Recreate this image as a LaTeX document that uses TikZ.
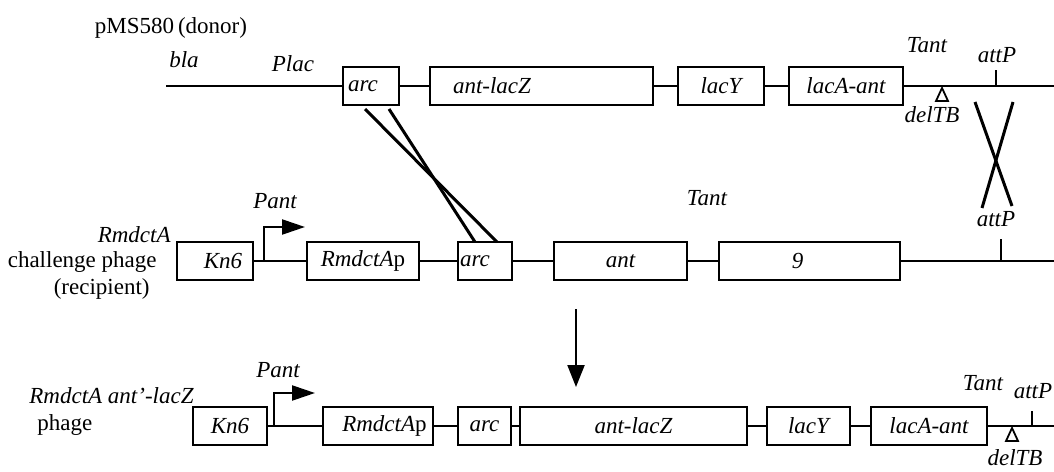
\documentclass[tikz,border=0pt]{standalone}
\usepackage{fontspec}
\setmainfont{Liberation Serif}
\usetikzlibrary{arrows.meta}
\begin{document}
\fontsize{11.5}{13}\selectfont
\begin{tikzpicture}[x=0.5pt,y=-0.5pt,
  gbox/.style={draw,line width=1.1pt,minimum height=19pt,minimum width=#1,inner sep=0pt,font=\itshape},
  dna/.style={line width=1pt},
  lab/.style={inner sep=0pt,font=\itshape},
  plain/.style={inner sep=0pt},
  xline/.style={line width=1.5pt},
  prom/.style={line width=1.1pt,-{Triangle[length=11.5pt,width=7.5pt]}},
  tick/.style={line width=1pt},
  deltri/.style={line width=0.9pt}]
\useasboundingbox (0,0) rectangle (1054,471);

% ---------- row 1 : donor ----------
\node[plain] (donor) at (171,28) {pMS580\,(donor)};
\node[lab] (bla) at (184,60) {bla};
\node[lab] (plac) at (293,64) {Plac};
\node[gbox=28pt] (a1) at (371,86) {arc\hspace*{8pt}};
\node[gbox=111.5pt] (z1) at (541.5,86) {ant-lacZ\hspace*{49.5pt}};
\node[gbox=43pt] (y1) at (721,86) {lacY};
\node[gbox=57pt] (aa1) at (846,86) {lacA-ant};
\coordinate (s1) at (166,86);
\coordinate (e1) at (1054,86);
\draw[dna] (s1) -- (a1);
\draw[dna] (a1) -- (z1);
\draw[dna] (z1) -- (y1);
\draw[dna] (y1) -- (aa1);
\draw[dna] (aa1) -- (e1);
\node[lab] (tant1) at (927,45) {Tant};
\node[lab] (attp1) at (997,55) {attP};
\coordinate (t1a) at (996,70);
\coordinate (t1b) at (996,86);
\draw[tick] (t1a) -- (t1b);
\coordinate (d1) at (942,88);
\draw[deltri] (d1) -- ++(-6,13) -- ++(12,0) -- cycle;
\node[lab] (del1) at (932,115) {delTB};

% ---------- row 2 : recipient ----------
\node[lab,anchor=east] (rm2) at (171,235) {RmdctA};
\node[plain,anchor=east] (ch2) at (157,262) {challenge phage};
\node[plain,anchor=east] (rc2) at (150,289) {(recipient)};
\node[gbox=38pt] (k2) at (215,261) {\hspace*{8pt}Kn6};
\node[gbox=56pt] (r2) at (363,261) {RmdctA\textup{p}};
\node[gbox=27pt] (a2) at (485,261) {arc\hspace*{10pt}};
\node[gbox=66.5pt] (n2) at (620.5,261) {ant};
\node[gbox=90.5pt] (g2) at (809.5,261) {9\hspace*{12pt}};
\coordinate (e2) at (1054,261);
\draw[dna] (k2) -- (r2);
\draw[dna] (r2) -- (a2);
\draw[dna] (a2) -- (n2);
\draw[dna] (n2) -- (g2);
\draw[dna] (g2) -- (e2);
\coordinate (pb2) at (264,261);
\coordinate (pt2) at (305,227);
\draw[prom] (pb2) |- (pt2);
\node[lab] (pant2) at (275,201) {Pant};
\node[lab] (tant2) at (707,198) {Tant};
\node[lab] (attp2) at (996,219) {attP};
\coordinate (t2a) at (1001,239);
\coordinate (t2b) at (1001,261);
\draw[tick] (t2a) -- (t2b);

% crossover lines (arc)
\coordinate (x1a) at (365,109);
\coordinate (x1b) at (497,242);
\coordinate (x2a) at (389,109);
\coordinate (x2b) at (475,242);
\draw[xline] (x1a) -- (x1b);
\draw[xline] (x2a) -- (x2b);
% crossover (attP)
\coordinate (x3a) at (975,102);
\coordinate (x3b) at (1012,206);
\coordinate (x4a) at (1013,102);
\coordinate (x4b) at (982,208);
\draw[xline] (x3a) -- (x3b);
\draw[xline] (x4a) -- (x4b);

% down arrow
\coordinate (da) at (576,309);
\coordinate (db) at (576,387);
\draw[line width=1.1pt,-{Triangle[length=11pt,width=8.5pt]}] (da) -- (db);

% ---------- row 3 : product ----------
\node[lab,anchor=west] (rm3) at (29,396) {RmdctA ant'-lacZ};
\node[plain,anchor=west] (ph3) at (37,425) {phage};
\node[gbox=37pt] (k3) at (230,426) {Kn6};
\node[gbox=55pt] (r3) at (378,426) {\hspace*{6.5pt}RmdctA\textup{p}};
\node[gbox=26.5pt] (a3) at (484.5,426) {arc};
\node[gbox=113.5pt] (z3) at (633.5,426) {ant-lacZ};
\node[gbox=41.5pt] (y3) at (808.5,426) {lacY};
\node[gbox=58pt] (aa3) at (929,426) {lacA-ant};
\coordinate (e3) at (1054,426);
\draw[dna] (k3) -- (r3);
\draw[dna] (r3) -- (a3);
\draw[dna] (a3) -- (z3);
\draw[dna] (z3) -- (y3);
\draw[dna] (y3) -- (aa3);
\draw[dna] (aa3) -- (e3);
\coordinate (pb3) at (274,426);
\coordinate (pt3) at (315,393);
\draw[prom] (pb3) |- (pt3);
\node[lab] (pant3) at (278,370) {Pant};
\node[lab] (tant3) at (983,383) {Tant};
\node[lab] (attp3) at (1033,391) {attP};
\coordinate (t3a) at (1032,411);
\coordinate (t3b) at (1032,426);
\draw[tick] (t3a) -- (t3b);
\coordinate (d3) at (1012,428);
\draw[deltri] (d3) -- ++(-6,13) -- ++(12,0) -- cycle;
\node[lab] (del3) at (1015,458) {delTB};
\end{tikzpicture}
\end{document}
